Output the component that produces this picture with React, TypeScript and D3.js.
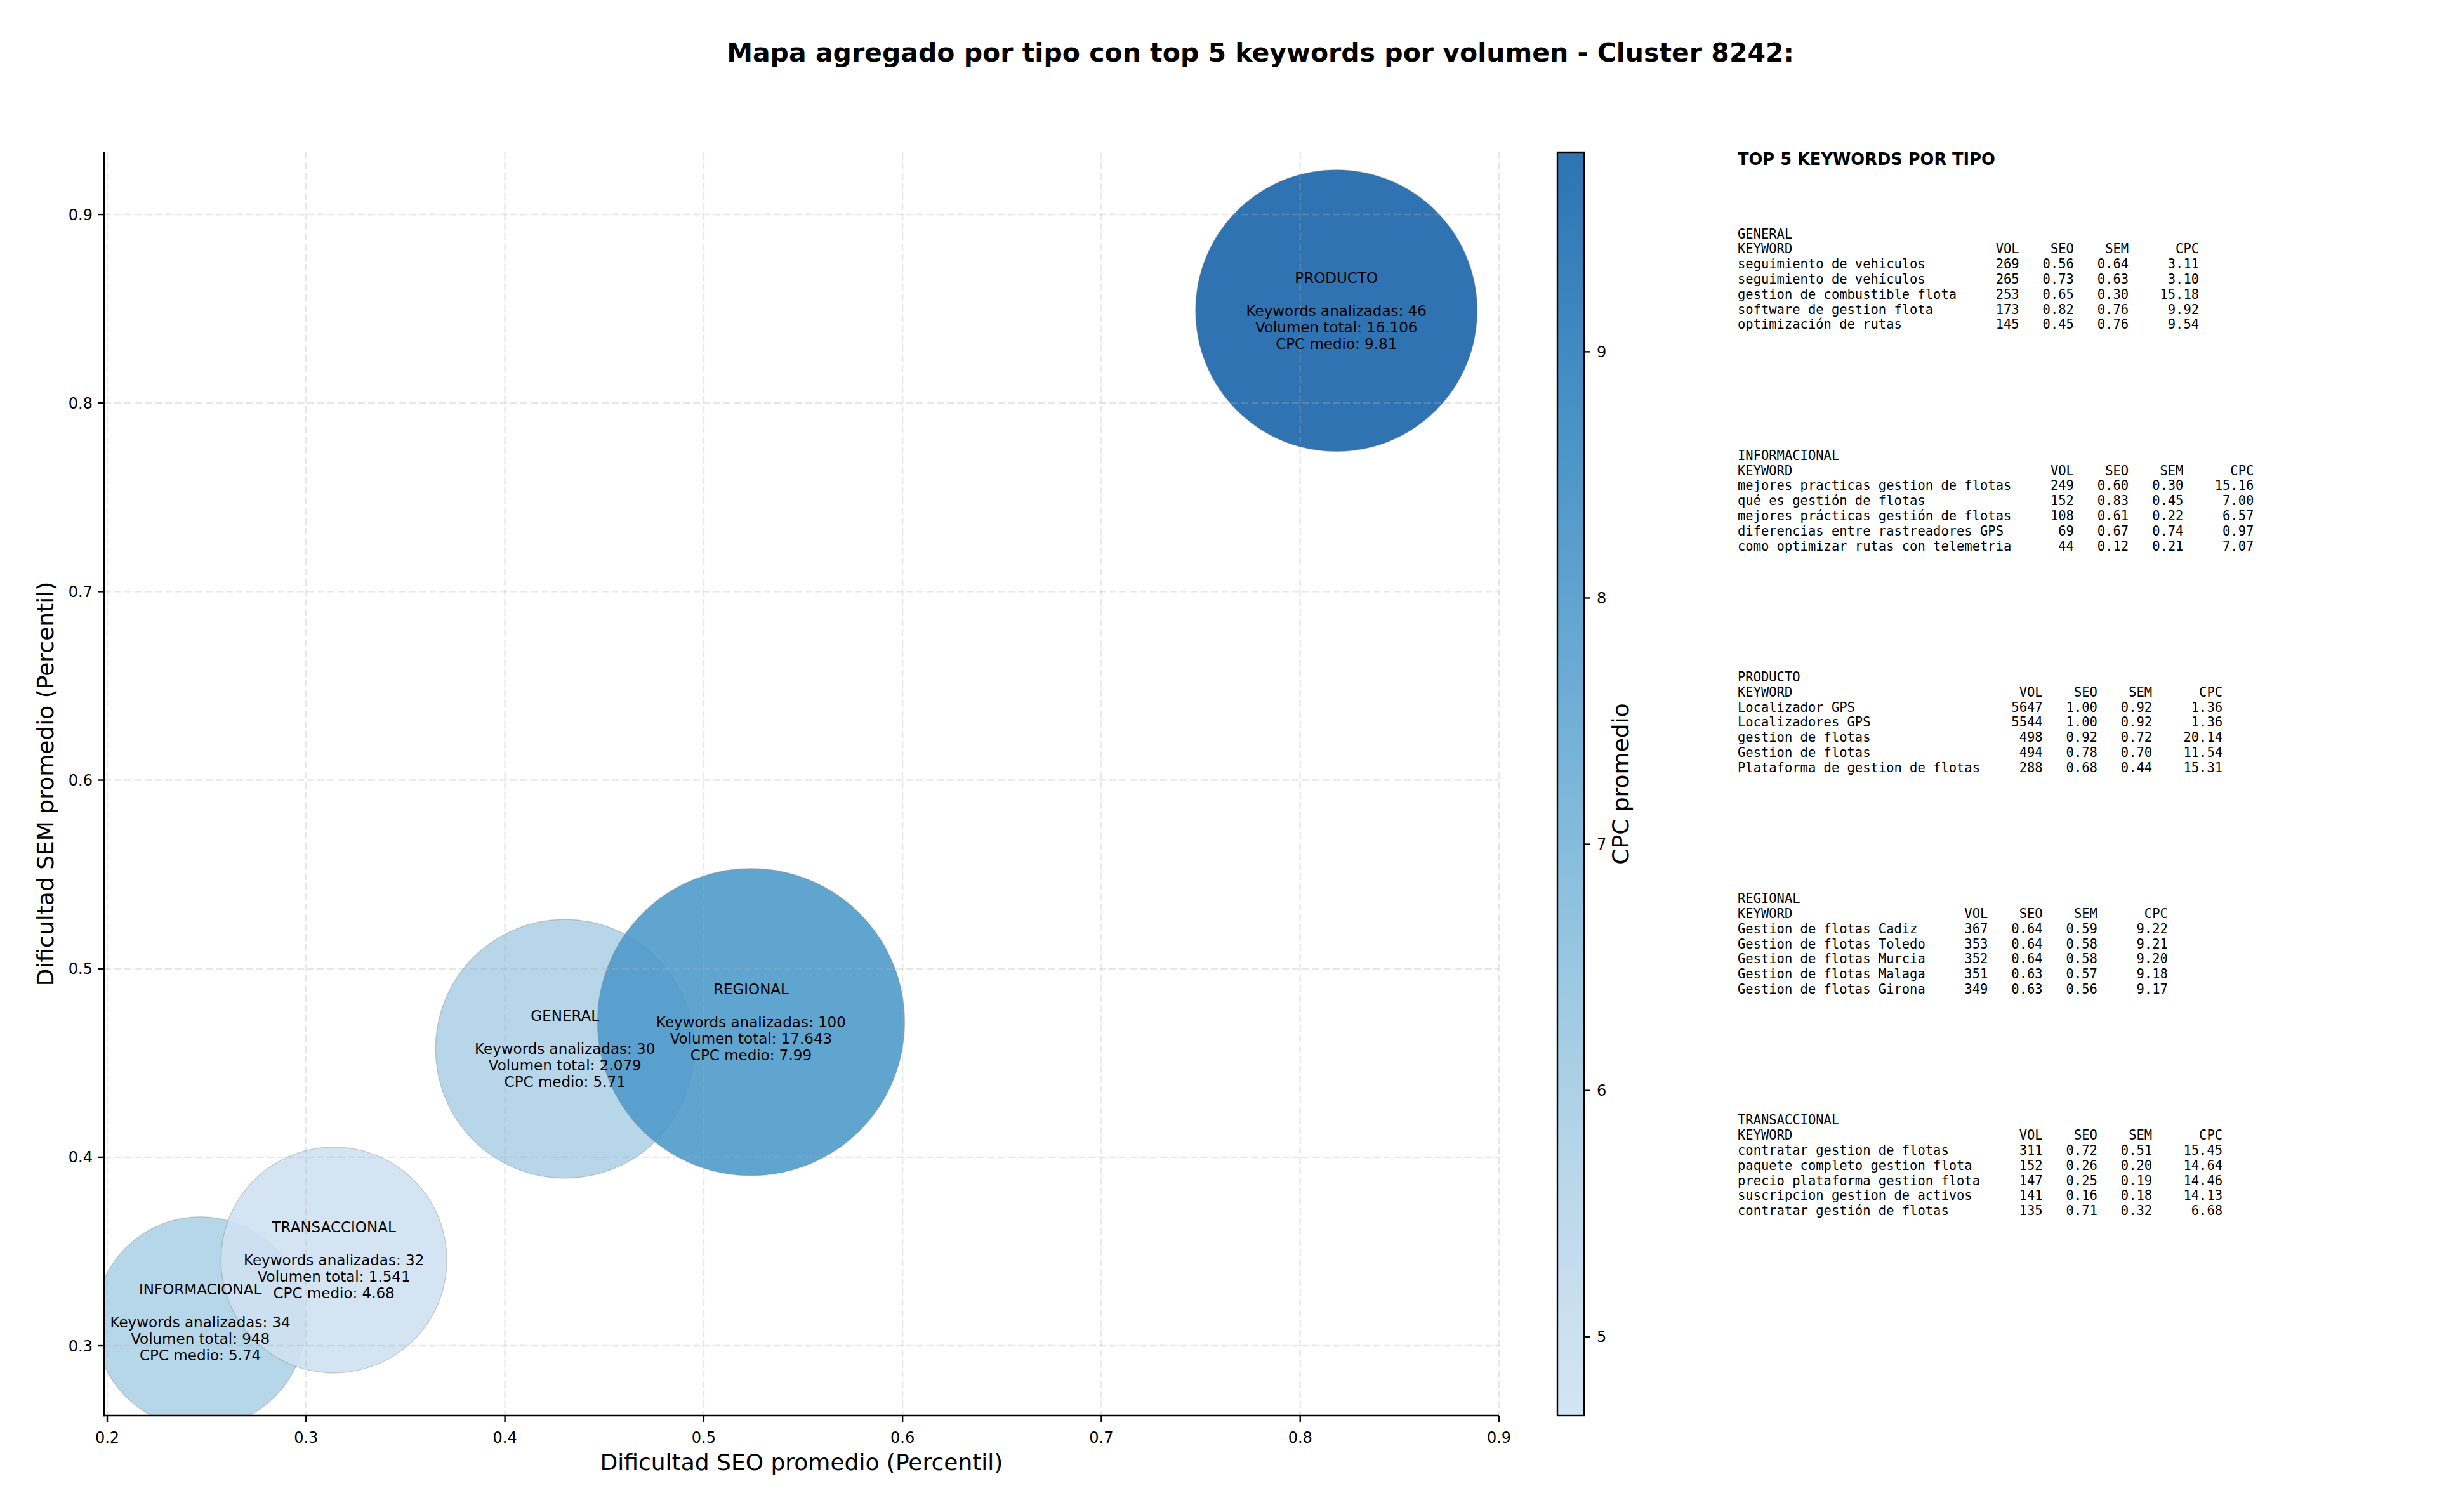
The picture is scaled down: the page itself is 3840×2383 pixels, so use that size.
import React from 'react';
import * as d3 from 'd3';

// ---------- Data ----------
const types = ['GENERAL', 'INFORMACIONAL', 'PRODUCTO', 'REGIONAL', 'TRANSACCIONAL'];
const seoAvg = [0.4302, 0.2468, 0.8182, 0.5238, 0.314];
const semAvg = [0.4575, 0.3125, 0.849, 0.4717, 0.3455];
const keywordCount = [30, 34, 46, 100, 32];
const totalVolume = [2079, 948, 16106, 17643, 1541];
const cpcAvg = [5.71, 5.74, 9.81, 7.99, 4.68];
// scatter marker size (relative area)
const markerSize = [416, 276, 493, 586, 317];

const xTicks = [0.2, 0.3, 0.4, 0.5, 0.6, 0.7, 0.8, 0.9];
const yTicks = [0.3, 0.4, 0.5, 0.6, 0.7, 0.8, 0.9];
const cbTicks = [5, 6, 7, 8, 9];

const generalRows: [string, number, number, number, number][] = [
  ['seguimiento de vehiculos', 269, 0.56, 0.64, 3.11],
  ['seguimiento de vehículos', 265, 0.73, 0.63, 3.10],
  ['gestion de combustible flota', 253, 0.65, 0.30, 15.18],
  ['software de gestion flota', 173, 0.82, 0.76, 9.92],
  ['optimización de rutas', 145, 0.45, 0.76, 9.54],
];
const informacionalRows: [string, number, number, number, number][] = [
  ['mejores practicas gestion de flotas', 249, 0.60, 0.30, 15.16],
  ['qué es gestión de flotas', 152, 0.83, 0.45, 7.00],
  ['mejores prácticas gestión de flotas', 108, 0.61, 0.22, 6.57],
  ['diferencias entre rastreadores GPS', 69, 0.67, 0.74, 0.97],
  ['como optimizar rutas con telemetria', 44, 0.12, 0.21, 7.07],
];
const productoRows: [string, number, number, number, number][] = [
  ['Localizador GPS', 5647, 1.00, 0.92, 1.36],
  ['Localizadores GPS', 5544, 1.00, 0.92, 1.36],
  ['gestion de flotas', 498, 0.92, 0.72, 20.14],
  ['Gestion de flotas', 494, 0.78, 0.70, 11.54],
  ['Plataforma de gestion de flotas', 288, 0.68, 0.44, 15.31],
];
const regionalRows: [string, number, number, number, number][] = [
  ['Gestion de flotas Cadiz', 367, 0.64, 0.59, 9.22],
  ['Gestion de flotas Toledo', 353, 0.64, 0.58, 9.21],
  ['Gestion de flotas Murcia', 352, 0.64, 0.58, 9.20],
  ['Gestion de flotas Malaga', 351, 0.63, 0.57, 9.18],
  ['Gestion de flotas Girona', 349, 0.63, 0.56, 9.17],
];
const transaccionalRows: [string, number, number, number, number][] = [
  ['contratar gestion de flotas', 311, 0.72, 0.51, 15.45],
  ['paquete completo gestion flota', 152, 0.26, 0.20, 14.64],
  ['precio plataforma gestion flota', 147, 0.25, 0.19, 14.46],
  ['suscripcion gestion de activos', 141, 0.16, 0.18, 14.13],
  ['contratar gestión de flotas', 135, 0.71, 0.32, 6.68],
];
const tableRows = [generalRows, informacionalRows, productoRows, regionalRows, transaccionalRows];

const titleText = 'Mapa agregado por tipo con top 5 keywords por volumen - Cluster 8242:';

// ---------- Layout ----------
const W = 3840;
const H = 2383;
const plot = { left: 164, right: 2362, top: 240, bottom: 2231 };
const cb = { left: 2454, right: 2496 };
const FONT = 'DejaVu Sans';
const MONO = 'DejaVu Sans Mono';
const ALPHA = 0.9;

const x = d3.scaleLinear().domain([0.1984, 0.9]).range([plot.left, plot.right]);
const y = d3.scaleLinear().domain([0.263, 0.933]).range([plot.bottom, plot.top]);
const r = d3.scaleSqrt().domain([0, d3.max(markerSize) as number]).range([0, 242]);
const cpcExtent = d3.extent(cpcAvg) as [number, number];
const colorT = d3.scaleLinear().domain(cpcExtent).range([0.2, 0.8]);
const color = (v: number) => d3.interpolateBlues(colorT(v));
const cbY = d3.scaleLinear().domain(cpcExtent).range([plot.bottom, plot.top]);

const fmtVol = (v: number) => d3.format(',')(v).replace(/,/g, '.');

function buildTable(name: string, rows: [string, number, number, number, number][]) {
  const w = (d3.max(rows, (d) => d[0].length) as number) + 2;
  const lines = [name];
  lines.push('KEYWORD'.padEnd(w) + 'VOL'.padStart(6) + 'SEO'.padStart(7) + 'SEM'.padStart(7) + 'CPC'.padStart(9));
  rows.forEach((d) => {
    lines.push(
      d[0].padEnd(w) +
        String(d[1]).padStart(6) +
        d[2].toFixed(2).padStart(7) +
        d[3].toFixed(2).padStart(7) +
        d[4].toFixed(2).padStart(9)
    );
  });
  return lines;
}

export default function App() {
  const order = types.map((_, i) => i);
  const gradStops = d3.range(0, 1.0001, 0.02);
  const lineH = 26;
  const tableLineH = 23.8;
  const blockStep = 349.2;
  return (
    <svg
      width={W}
      height={H}
      style={{ position: 'absolute', left: 0, top: 0, background: '#fff' }}
      fontFamily={FONT}
    >
      <rect x={0} y={0} width={W} height={H} fill="#fff" />
      <defs>
        <linearGradient id="cbgrad" x1="0" y1="1" x2="0" y2="0">
          {gradStops.map((t) => (
            <stop key={t} offset={t} stopColor={d3.interpolateBlues(0.2 + 0.6 * t)} />
          ))}
        </linearGradient>
        <clipPath id="plotclip">
          <rect x={plot.left} y={plot.top} width={plot.right - plot.left} height={plot.bottom - plot.top} />
        </clipPath>
      </defs>

      {/* Title */}
      <text x={1986} y={97} textAnchor="middle" fontSize={41} fontWeight="bold">
        {titleText}
      </text>

      {/* Bubbles */}
      <g clipPath="url(#plotclip)">
        {order.map((i) => (
          <circle
            key={types[i]}
            cx={x(seoAvg[i])}
            cy={y(semAvg[i])}
            r={r(markerSize[i])}
            fill={color(cpcAvg[i])}
            fillOpacity={ALPHA}
            stroke="#808080"
            strokeOpacity={0.35}
            strokeWidth={1.5}
          />
        ))}
      </g>

      {/* Grid (drawn above bubbles) */}
      <g stroke="#b0b0b0" strokeOpacity={0.3} strokeWidth={2.4} strokeDasharray="11,5">
        {xTicks.map((t) => (
          <line key={'gx' + t} x1={x(t)} x2={x(t)} y1={plot.top} y2={plot.bottom} />
        ))}
        {yTicks.map((t) => (
          <line key={'gy' + t} x1={plot.left} x2={plot.right} y1={y(t)} y2={y(t)} />
        ))}
      </g>

      {/* Bubble labels */}
      {order.map((i) => {
        const cx = x(seoAvg[i]);
        const cy = y(semAvg[i]);
        const lines = [
          types[i],
          '',
          `Keywords analizadas: ${keywordCount[i]}`,
          `Volumen total: ${fmtVol(totalVolume[i])}`,
          `CPC medio: ${cpcAvg[i].toFixed(2)}`,
        ];
        return (
          <g key={'lbl' + types[i]}>
            {lines.map((s, k) =>
              s ? (
                <text key={k} x={cx} y={cy + (k - 2) * lineH + 8} textAnchor="middle" fontSize={23} fill="#000">
                  {s}
                </text>
              ) : null
            )}
          </g>
        );
      })}

      {/* Axes spines */}
      <line x1={plot.left} x2={plot.left} y1={plot.top} y2={plot.bottom + 1.2} stroke="#000" strokeWidth={2.4} />
      <line x1={plot.left - 1.2} x2={plot.right} y1={plot.bottom} y2={plot.bottom} stroke="#000" strokeWidth={2.4} />

      {/* X ticks */}
      {xTicks.map((t) => (
        <g key={'xt' + t}>
          <line x1={x(t)} x2={x(t)} y1={plot.bottom} y2={plot.bottom + 10} stroke="#000" strokeWidth={2.4} />
          <text x={x(t)} y={2274} textAnchor="middle" fontSize={24}>
            {t.toFixed(1)}
          </text>
        </g>
      ))}
      {/* Y ticks */}
      {yTicks.map((t) => (
        <g key={'yt' + t}>
          <line x1={plot.left - 10} x2={plot.left} y1={y(t)} y2={y(t)} stroke="#000" strokeWidth={2.4} />
          <text x={146} y={y(t) + 8.5} textAnchor="end" fontSize={24}>
            {t.toFixed(1)}
          </text>
        </g>
      ))}

      {/* Axis labels */}
      <text x={(plot.left + plot.right) / 2} y={2317} textAnchor="middle" fontSize={36}>
        Dificultad SEO promedio (Percentil)
      </text>
      <text
        transform={`translate(84, ${(plot.top + plot.bottom) / 2}) rotate(-90)`}
        textAnchor="middle"
        fontSize={36}
      >
        Dificultad SEM promedio (Percentil)
      </text>

      {/* Colorbar */}
      <rect
        x={cb.left}
        y={plot.top}
        width={cb.right - cb.left}
        height={plot.bottom - plot.top}
        fill="url(#cbgrad)"
        fillOpacity={ALPHA}
      />
      <rect
        x={cb.left}
        y={plot.top}
        width={cb.right - cb.left}
        height={plot.bottom - plot.top}
        fill="none"
        stroke="#000"
        strokeWidth={2.4}
      />
      {cbTicks.map((t) => (
        <g key={'cb' + t}>
          <line x1={cb.right} x2={cb.right + 10} y1={cbY(t)} y2={cbY(t)} stroke="#000" strokeWidth={2.4} />
          <text x={2516} y={cbY(t) + 8.5} fontSize={24}>
            {t}
          </text>
        </g>
      ))}
      <text
        transform={`translate(2566, ${(plot.top + plot.bottom) / 2}) rotate(-90)`}
        textAnchor="middle"
        fontSize={36}
      >
        CPC promedio
      </text>

      {/* Right panel */}
      <text x={2738} y={260} fontSize={25.7} fontWeight="bold">
        TOP 5 KEYWORDS POR TIPO
      </text>
      {types.map((name, b) => {
        const lines = buildTable(name, tableRows[b]);
        return (
          <g key={'tbl' + name}>
            {lines.map((s, k) => (
              <text
                key={k}
                x={2738}
                y={375.5 + b * blockStep + k * tableLineH}
                fontFamily={MONO}
                fontSize={20.48}
                xmlSpace="preserve"
                style={{ whiteSpace: 'pre' }}
              >
                {s}
              </text>
            ))}
          </g>
        );
      })}
    </svg>
  );
}
